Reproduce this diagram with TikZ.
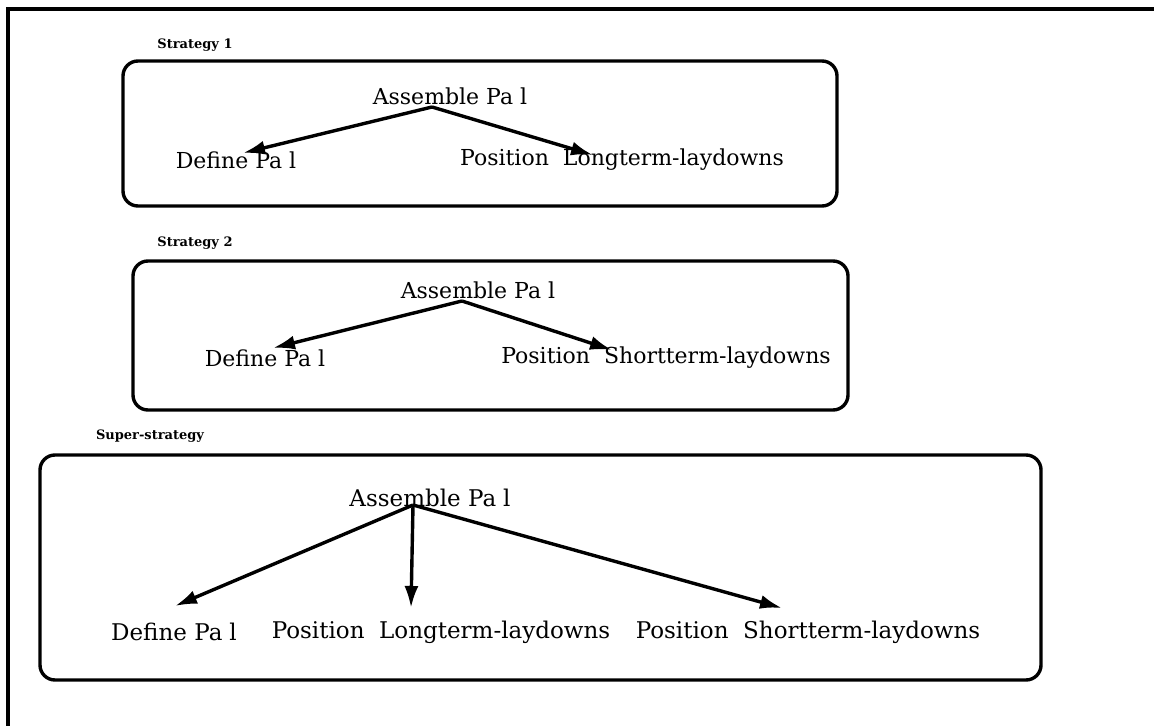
\documentclass[tikz,border=0pt]{standalone}
\usepackage{fontspec}
\setmainfont{DejaVu Serif}
\usetikzlibrary{arrows.meta}
\newcommand{\Pal}{Pa\kern3.5pt l}
\tikzset{
  frame/.style={line width=1.7pt, rounded corners=7.5pt},
  lbl/.style={font=\fontsize{11}{13}\selectfont, inner sep=0pt},
  biglbl/.style={font=\fontsize{11.5}{13}\selectfont, inner sep=0pt},
  title/.style={font=\fontsize{6.5}{7}\selectfont\bfseries, inner sep=0pt},
  arr/.style={line width=1.7pt, -{Latex[length=11pt,width=7pt]}},
}
\begin{document}
\begin{tikzpicture}[x=0.5pt, y=-0.5pt]
  \useasboundingbox (0,0) rectangle (1154,726);
  % outer frame (left and top edges)
  \draw[line width=1.6pt] (8,726) -- (8,9) -- (1154,9);

  % Strategy 1
  \node[title] (t1) at (195,45) {Strategy 1};
  \draw[frame] (123,61) rectangle (837,206);
  \node[lbl] (asm1) at (450,96) {Assemble \Pal};
  \node[lbl] (def1) at (236,160) {Define \Pal};
  \node[lbl] (pos1) at (622,160) {Position\ \ Longterm-laydowns};
  \coordinate (ap1) at (432,107);
  \coordinate (d1) at (243,153);
  \coordinate (l1) at (593,155);
  \draw[arr] (ap1) -- (d1);
  \draw[arr] (ap1) -- (l1);

  % Strategy 2
  \node[title] (t2) at (195,243) {Strategy 2};
  \draw[frame] (133,261) rectangle (848,410);
  \node[lbl] (asm2) at (478,290) {Assemble \Pal};
  \node[lbl] (def2) at (265,358) {Define \Pal};
  \node[lbl] (pos2) at (666,358) {Position\ \ Shortterm-laydowns};
  \coordinate (ap2) at (462,301);
  \coordinate (d2) at (273,348);
  \coordinate (s2) at (612,350);
  \draw[arr] (ap2) -- (d2);
  \draw[arr] (ap2) -- (s2);

  % Super-strategy
  \node[title] (t3) at (150,436) {Super-strategy};
  \draw[frame] (40,455) rectangle (1041,680);
  \node[biglbl] (asm3) at (430,498) {Assemble \Pal};
  \node[biglbl] (def3) at (174,632) {Define \Pal};
  \node[biglbl] (pos3a) at (441,632) {Position\ \ Longterm-laydowns};
  \node[biglbl] (pos3b) at (808,632) {Position\ \ Shortterm-laydowns};
  \coordinate (ap3) at (413,505);
  \coordinate (d3) at (175,606);
  \coordinate (l3) at (411,608);
  \coordinate (s3) at (782,608);
  \draw[arr] (ap3) -- (d3);
  \draw[arr] (ap3) -- (l3);
  \draw[arr] (ap3) -- (s3);
\end{tikzpicture}
\end{document}
